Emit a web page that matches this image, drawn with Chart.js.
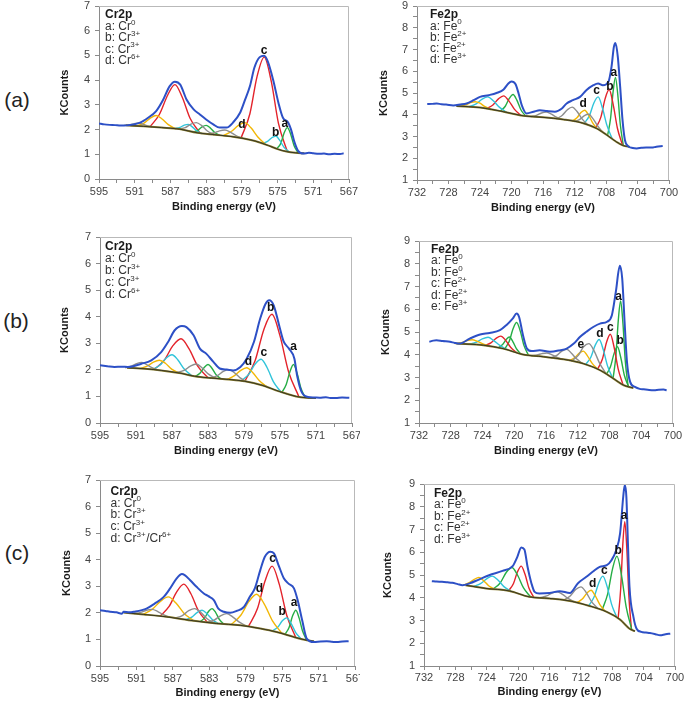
<!DOCTYPE html>
<html lang="en">
<head>
<meta charset="UTF-8">
<title>XPS Cr2p / Fe2p</title>
<script src="https://cdn.jsdelivr.net/npm/chart.js"></script>
<style>
    body { margin: 0; background: #fff; }
    #page { position: relative; width: 685px; height: 705px; overflow: hidden; }
    canvas { position: absolute; }
    .tag {
        position: absolute; width: 40px; margin-left: -20px; text-align: center;
        font: 21px "Liberation Sans", Arial, sans-serif; color: #222; line-height: 24px; margin-top: -12px;
    }
</style>
</head>
<body>
<div id="page">
    <div class="tag" style="left:17px; top:100px">(a)</div>
    <div class="tag" style="left:16px; top:321px">(b)</div>
    <div class="tag" style="left:17px; top:553px">(c)</div>
    <canvas id="crA"></canvas>
    <canvas id="feA"></canvas>
    <canvas id="crB"></canvas>
    <canvas id="feB"></canvas>
    <canvas id="crC"></canvas>
    <canvas id="feC"></canvas>
</div>

<script>
// ---------- tick labels ----------
const crTicks = [595, 591, 587, 583, 579, 575, 571, 567];
const feTicks = [732, 728, 724, 720, 716, 712, 708, 704, 700];

// ---------- (a) Cr2p ----------
const crA_env = [[595,2.25],[594.4,2.21],[593.8,2.19],[593.2,2.18],[592.6,2.16],[591.9,2.17],[590.4,2.28],[589.5,2.48],[588.6,2.75],[587.8,3.22],[587.1,3.75],[586.5,3.94],[585.9,3.82],[585.2,3.22],[584.4,2.82],[583.7,2.61],[583.0,2.41],[582.2,2.21],[581.5,2.08],[580.7,2.08],[580.0,2.28],[579.2,2.68],[578.7,3.15],[578.1,3.75],[577.6,4.50],[577.0,4.93],[576.5,4.99],[576.1,4.76],[575.5,4.02],[574.9,3.08],[574.4,2.48],[573.8,2.28],[573.5,2.01],[573.1,1.48],[572.7,1.14],[572.1,1.03],[571.5,1.06],[571.0,1.04],[570.4,1.02],[569.8,1.03],[569.2,1.00],[568.6,1.02],[568.0,1.01],[567.6,1.04]];
const crA_bg = [[592.0,2.17],[590.0,2.13],[588.0,2.08],[586.0,2.02],[584.0,1.87],[582.0,1.79],[580.0,1.71],[578.0,1.58],[577.0,1.48],[576.0,1.35],[575.0,1.21],[574.0,1.11],[573.0,1.06],[572.0,1.04]];
const crA_red = [
    [[579.1,1.65],[578.1,2.64],[577.3,4.14],[576.5,4.93],[575.7,3.94],[574.9,2.25],[573.9,1.10]],
    [[589.3,2.11],[588.24,2.61],[587.3,3.40],[586.5,3.82],[585.7,3.33],[584.8,2.46],[583.7,1.86]]];
const crA_green = [
    [[575.1,1.22],[574.64,1.44],[574.26,1.87],[573.9,2.08],[573.54,1.82],[573.16,1.36],[572.7,1.05]],
    [[584.5,1.90],[583.93,1.97],[583.45,2.11],[583.0,2.17],[582.55,2.07],[582.07,1.89],[581.5,1.77]]];
const crA_cyan = [
    [[576.7,1.44],[576.13,1.52],[575.65,1.67],[575.2,1.74],[574.75,1.56],[574.27,1.28],[573.7,1.09]],
    [[586.5,2.04],[585.93,2.09],[585.45,2.18],[585.0,2.21],[584.55,2.11],[584.07,1.95],[583.5,1.84]]];
const crA_yellow = [
    [[581.1,1.75],[580.19,1.92],[579.42,2.16],[578.7,2.28],[577.98,2.07],[577.21,1.70],[576.3,1.39]],
    [[590.8,2.15],[589.96,2.26],[589.26,2.46],[588.6,2.57],[587.94,2.43],[587.24,2.20],[586.4,2.03]]];
const crA_gray = [
    [[586.1,2.02],[585.34,2.08],[584.7,2.22],[584.1,2.28],[583.5,2.16],[582.86,1.94],[582.1,1.79]],
    [[582.9,1.82],[582.14,1.86],[581.5,1.95],[580.9,1.98],[580.3,1.90],[579.66,1.76],[578.9,1.64]],
    [[592.2,2.17],[591.6,2.19],[591.1,2.23],[590.6,2.27],[590.1,2.22],[589.6,2.15],[589.0,2.11]]];
const crA_marks = [['c',576.5,5.2],['d',579.0,2.2],['b',575.2,1.88],['a',574.2,2.24]];
const crA_legend = [['a: Cr','0'],['b: Cr','3+'],['c: Cr','3+'],['d: Cr','6+']];

// ---------- (a) Fe2p ----------
const feA_env = [[730.7,4.49],[730.1,4.50],[729.5,4.52],[728.9,4.48],[728.3,4.47],[727.4,4.43],[726.5,4.47],[725.7,4.52],[724.8,4.67],[724.0,4.82],[722.9,4.90],[721.9,5.00],[721.0,5.16],[720.4,5.44],[720.0,5.53],[719.5,5.41],[719.1,4.98],[718.7,4.44],[718.1,4.06],[717.2,4.14],[716.4,4.21],[715.5,4.17],[714.5,4.14],[713.6,4.29],[713.0,4.52],[712.2,4.67],[711.3,4.82],[710.5,5.13],[709.6,5.36],[709.0,5.44],[708.4,5.36],[707.7,5.51],[707.3,6.20],[707.0,7.12],[706.8,7.30],[706.5,6.66],[706.2,5.28],[705.9,3.75],[705.6,2.84],[705.2,2.56],[704.6,2.47],[704.1,2.45],[703.5,2.48],[702.9,2.50],[702.2,2.49],[701.6,2.53],[700.8,2.56]];
const feA_bg = [[727.0,4.40],[724.0,4.33],[721.0,4.14],[718.5,3.95],[716.0,3.88],[713.4,3.78],[711.0,3.62],[709.2,3.37],[707.9,3.07],[706.7,2.76],[705.8,2.58],[705.0,2.53]];
const feA_green = [
    [[707.8,3.05],[707.42,3.83],[707.1,5.05],[706.8,5.71],[706.5,4.91],[706.18,3.54],[705.8,2.58]],
    [[721.4,4.17],[720.79,4.39],[720.28,4.75],[719.8,4.93],[719.32,4.67],[718.81,4.23],[718.2,3.94]]];
const feA_red = [
    [[709.3,3.38],[708.65,3.89],[708.11,4.74],[707.6,5.16],[707.09,4.48],[706.55,3.38],[705.9,2.60]],
    [[723.2,4.28],[722.36,4.45],[721.66,4.73],[721.0,4.87],[720.34,4.64],[719.64,4.26],[718.8,3.97]]];
const feA_cyan = [
    [[710.8,3.59],[710.12,3.95],[709.54,4.54],[709.0,4.82],[708.46,4.32],[707.88,3.51],[707.2,2.89]],
    [[725.4,4.36],[724.49,4.50],[723.72,4.72],[723.0,4.82],[722.28,4.63],[721.51,4.34],[720.6,4.11]]];
const feA_yellow = [
    [[712.3,3.70],[711.69,3.86],[711.18,4.10],[710.7,4.21],[710.22,3.99],[709.71,3.64],[709.1,3.35]],
    [[726.6,4.39],[725.84,4.45],[725.2,4.56],[724.6,4.60],[724.0,4.53],[723.36,4.37],[722.6,4.24]]];
const feA_gray = [
    [[714.3,3.81],[713.54,3.98],[712.9,4.23],[712.3,4.35],[711.7,4.16],[711.06,3.82],[710.3,3.53]],
    [[712.0,3.69],[711.32,3.79],[710.74,3.96],[710.2,4.02],[709.66,3.82],[709.08,3.50],[708.4,3.19]],
    [[717.6,3.92],[716.84,3.97],[716.2,4.08],[715.6,4.12],[715.0,4.04],[714.36,3.90],[713.6,3.79]]];
const feA_marks = [['a',707.0,5.95],['b',707.5,5.31],['c',709.2,5.1],['d',710.9,4.52]];
const feA_legend = [['a: Fe','0'],['b: Fe','2+'],['c: Fe','2+'],['d: Fe','3+']];

// ---------- (b) Cr2p ----------
const crB_env = [[595,2.17],[594.2,2.14],[593.4,2.11],[592.6,2.12],[591.9,2.11],[590.4,2.23],[589.3,2.36],[588.2,2.67],[587.4,3.07],[586.7,3.49],[585.9,3.65],[585.4,3.61],[584.6,3.30],[583.9,2.80],[583.2,2.61],[582.4,2.30],[581.7,2.05],[580.9,2.01],[580.2,1.98],[579.4,2.11],[578.7,2.42],[577.9,3.05],[577.2,3.93],[576.6,4.49],[576.2,4.62],[575.7,4.43],[575.1,3.68],[574.6,3.07],[574.0,2.80],[573.4,2.42],[573.1,1.79],[572.6,1.17],[571.9,0.98],[571.2,0.96],[570.6,0.95],[569.9,0.97],[569.4,0.94],[568.8,0.94],[568.1,0.96],[567.3,0.95]];
const crB_bg = [[592.0,2.08],[590.0,2.04],[588.2,1.98],[586.0,1.87],[584.5,1.76],[582.6,1.69],[580.7,1.64],[578.9,1.57],[577.0,1.42],[575.1,1.19],[573.2,1.00],[572.1,0.95],[571.0,0.94]];
const crB_red = [
    [[578.9,1.57],[577.76,2.35],[576.8,3.51],[575.9,4.09],[575.0,3.28],[574.04,1.92],[572.9,0.99]],
    [[589.0,2.01],[587.86,2.36],[586.9,2.91],[586.0,3.17],[585.1,2.79],[584.14,2.14],[583.0,1.70]]];
const crB_cyan = [
    [[579.3,1.59],[578.46,1.84],[577.76,2.22],[577.1,2.40],[576.44,2.09],[575.74,1.56],[574.9,1.17]],
    [[589.2,2.01],[588.36,2.17],[587.66,2.44],[587.0,2.57],[586.34,2.37],[585.64,2.03],[584.8,1.78]]];
const crB_green = [
    [[574.8,1.15],[574.31,1.45],[573.89,1.94],[573.5,2.20],[573.11,1.88],[572.69,1.33],[572.2,0.95]],
    [[584.4,1.75],[583.87,1.88],[583.42,2.09],[583.0,2.20],[582.58,2.07],[582.13,1.83],[581.6,1.67]]];
const crB_yellow = [
    [[580.9,1.64],[580.06,1.78],[579.36,1.98],[578.7,2.08],[578.04,1.90],[577.34,1.61],[576.5,1.37]],
    [[590.6,2.05],[589.76,2.14],[589.06,2.29],[588.4,2.36],[587.74,2.25],[587.04,2.03],[586.2,1.88]]];
const crB_gray = [
    [[586.5,1.90],[585.66,1.98],[584.96,2.14],[584.3,2.22],[583.64,2.07],[582.94,1.84],[582.1,1.68]],
    [[582.7,1.69],[581.94,1.78],[581.3,1.94],[580.7,2.01],[580.1,1.90],[579.46,1.71],[578.7,1.56]],
    [[592.2,2.08],[591.52,2.14],[590.94,2.23],[590.4,2.28],[589.86,2.21],[589.28,2.09],[588.6,2.00]]];
const crB_marks = [['b',576.05,4.33],['a',573.5,2.86],['c',576.8,2.65],['d',578.5,2.32]];
const crB_legend = [['a: Cr','0'],['b: Cr','3+'],['c: Cr','3+'],['d: Cr','6+']];

// ---------- (b) Fe2p ----------
const feB_env = [[730.7,4.57],[730.2,4.62],[729.8,4.64],[729.0,4.60],[728.1,4.57],[727.5,4.52],[726.9,4.49],[725.6,4.71],[724.3,4.89],[723.1,4.96],[721.8,5.08],[721.0,5.30],[720.2,5.59],[719.7,5.81],[719.4,5.67],[718.9,4.86],[718.4,4.27],[717.8,4.16],[716.8,4.20],[715.5,4.13],[714.2,4.20],[713.4,4.27],[712.5,4.49],[711.7,4.79],[710.9,5.01],[710.0,5.23],[709.2,5.37],[708.3,5.45],[707.7,5.74],[707.2,6.77],[706.7,7.91],[706.4,7.36],[706.1,5.45],[705.8,3.69],[705.4,2.81],[704.8,2.59],[704.2,2.50],[703.7,2.48],[703.0,2.45],[702.4,2.44],[701.8,2.46],[701.2,2.47],[700.8,2.44]];
const feB_bg = [[727.3,4.49],[723.9,4.42],[721.4,4.27],[718.9,4.01],[716.3,3.91],[713.8,3.80],[711.3,3.61],[709.2,3.32],[707.5,2.95],[706.2,2.66],[705.0,2.54]];
const feB_green = [
    [[707.55,2.96],[707.19,3.96],[706.89,5.52],[706.6,6.36],[706.31,5.39],[706.01,3.72],[705.65,2.60]],
    [[708.4,3.14],[707.87,3.48],[707.42,4.06],[707.0,4.35],[706.58,3.88],[706.13,3.10],[705.6,2.60]],
    [[721.2,4.26],[720.63,4.59],[720.15,5.14],[719.7,5.42],[719.25,5.05],[718.77,4.40],[718.2,3.98]],
    [[722.0,4.31],[721.47,4.45],[721.02,4.67],[720.6,4.78],[720.18,4.58],[719.73,4.27],[719.2,4.04]]];
const feB_red = [
    [[709.5,3.37],[708.89,3.81],[708.38,4.54],[707.9,4.90],[707.42,4.33],[706.91,3.38],[706.3,2.68]],
    [[723.7,4.41],[722.94,4.52],[722.3,4.72],[721.7,4.82],[721.1,4.64],[720.46,4.33],[719.7,4.09]]];
const feB_cyan = [
    [[711.0,3.58],[710.35,3.89],[709.81,4.41],[709.3,4.67],[708.79,4.23],[708.25,3.51],[707.6,2.97]],
    [[725.7,4.46],[724.79,4.55],[724.02,4.70],[723.3,4.77],[722.58,4.62],[721.81,4.41],[720.9,4.22]]];
const feB_yellow = [
    [[713.1,3.74],[712.42,3.86],[711.84,4.06],[711.3,4.16],[710.76,3.94],[710.18,3.62],[709.5,3.37]],
    [[727.5,4.49],[726.66,4.53],[725.96,4.62],[725.3,4.66],[724.64,4.59],[723.94,4.48],[723.1,4.38]]];
const feB_gray = [
    [[712.8,3.72],[711.96,3.96],[711.26,4.35],[710.6,4.49],[709.94,4.17],[709.24,3.62],[708.4,3.15]],
    [[715.4,3.86],[714.64,3.97],[714.0,4.16],[713.4,4.24],[712.8,4.07],[712.16,3.82],[711.4,3.62]],
    [[717.9,3.96],[717.14,3.99],[716.5,4.05],[715.9,4.08],[715.3,4.01],[714.66,3.90],[713.9,3.80]]];
const feB_marks = [['a',706.86,6.55],['b',706.65,4.6],['c',707.9,5.18],['d',709.2,4.93],['e',711.6,4.45]];
const feB_legend = [['a: Fe','0'],['b: Fe','0'],['c: Fe','2+'],['d: Fe','2+'],['e: Fe','3+']];

// ---------- (c) Cr2p ----------
const crC_env = [[595,2.10],[594.4,2.07],[593.9,2.04],[593.2,2.02],[592.6,1.97],[592.4,2.04],[591.8,2.02],[591.3,2.04],[589.9,2.16],[589.0,2.35],[588.0,2.60],[587.3,2.92],[586.6,3.29],[586.0,3.46],[585.7,3.42],[585.1,3.23],[584.4,2.98],[583.6,2.73],[583.1,2.63],[582.5,2.48],[582.0,2.16],[581.4,2.04],[580.7,2.00],[580.0,2.07],[579.2,2.22],[578.5,2.63],[578.0,2.92],[577.4,3.61],[576.9,4.11],[576.3,4.30],[575.9,4.24],[575.4,3.80],[574.8,3.29],[574.3,3.10],[573.7,2.92],[573.3,2.48],[572.8,1.72],[572.3,1.03],[571.5,0.90],[570.8,0.92],[570.1,0.93],[569.5,0.91],[569.0,0.90],[568.4,0.92],[567.7,0.93]];
const crC_bg = [[592.4,2.01],[590.2,1.94],[587.7,1.85],[584.7,1.70],[582.2,1.60],[579.6,1.53],[577.4,1.41],[575.6,1.28],[573.7,1.09],[572.3,0.97],[571.5,0.93]];
const crC_red = [
    [[578.7,1.49],[577.71,2.16],[576.88,3.20],[576.1,3.76],[575.32,3.08],[574.49,1.90],[573.5,1.07]],
    [[588.4,1.88],[587.41,2.24],[586.58,2.79],[585.8,3.08],[585.02,2.72],[584.19,2.08],[583.2,1.64]]];
const crC_yellow = [
    [[580.6,1.56],[579.54,1.91],[578.64,2.43],[577.8,2.70],[576.96,2.33],[576.06,1.70],[575.0,1.22]],
    [[590.3,1.94],[589.24,2.14],[588.34,2.44],[587.5,2.60],[586.66,2.37],[585.76,1.98],[584.7,1.70]]];
const crC_cyan = [
    [[576.1,1.32],[575.49,1.46],[574.98,1.70],[574.5,1.81],[574.02,1.60],[573.51,1.26],[572.9,1.02]],
    [[585.6,1.75],[584.92,1.84],[584.34,2.01],[583.8,2.10],[583.26,1.97],[582.68,1.75],[582.0,1.59]]];
const crC_green = [
    [[574.7,1.19],[574.24,1.45],[573.86,1.88],[573.5,2.10],[573.14,1.81],[572.76,1.32],[572.3,0.97]],
    [[584.0,1.67],[583.51,1.81],[583.09,2.05],[582.7,2.16],[582.31,2.02],[581.89,1.75],[581.4,1.58]]];
const crC_gray = [
    [[586.8,1.80],[585.96,1.90],[585.26,2.08],[584.6,2.16],[583.94,2.02],[583.24,1.78],[582.4,1.61]],
    [[583.3,1.64],[582.46,1.73],[581.76,1.89],[581.1,1.97],[580.44,1.85],[579.74,1.66],[578.9,1.50]],
    [[591.3,1.97],[590.54,2.02],[589.9,2.10],[589.3,2.13],[588.7,2.06],[588.06,1.93],[587.3,1.83]]];
const crC_marks = [['c',576.05,4.02],['d',577.5,2.92],['b',575.0,2.06],['a',573.7,2.39]];
const crC_legend = [['a: Cr','0'],['b: Cr','3+'],['c: Cr','3+'],['d: Cr','3+','/Cr','6+']];

// ---------- (c) Fe2p ----------
const feC_env = [[731.0,4.73],[730.4,4.71],[729.7,4.70],[729.0,4.68],[728.4,4.66],[727.7,4.60],[727.1,4.55],[726.2,4.63],[725.0,4.80],[723.7,4.99],[722.0,5.18],[720.7,5.39],[720.1,5.80],[719.6,6.21],[719.2,6.12],[718.8,5.36],[718.3,4.63],[717.9,4.26],[717.3,4.19],[716.0,4.21],[714.7,4.29],[713.4,4.21],[712.4,4.63],[711.3,4.92],[710.5,5.14],[709.6,5.36],[708.7,5.43],[708.1,5.65],[707.5,6.09],[707.0,6.83],[706.6,8.44],[706.4,8.96],[706.2,8.44],[706.0,6.39],[705.8,4.48],[705.3,3.16],[704.9,2.64],[704.3,2.50],[703.7,2.47],[703.2,2.45],[702.5,2.40],[701.9,2.35],[701.2,2.40],[700.6,2.42]];
const feC_bg = [[726.7,4.55],[724.1,4.41],[721.1,4.30],[718.6,4.04],[716.0,3.97],[713.4,3.86],[710.9,3.64],[708.7,3.38],[707.0,3.04],[705.8,2.64],[705.1,2.53]];
const feC_red = [
    [[707.25,3.09],[706.93,4.36],[706.66,6.31],[706.4,7.34],[706.14,6.13],[705.87,4.01],[705.55,2.60]],
    [[721.2,4.31],[720.59,4.63],[720.08,5.14],[719.6,5.39],[719.12,5.03],[718.61,4.42],[718.0,4.02]]];
const feC_green = [
    [[709.3,3.46],[708.58,4.17],[707.97,5.26],[707.4,5.83],[706.83,5.01],[706.22,3.59],[705.5,2.59]],
    [[723.2,4.38],[722.29,4.65],[721.52,5.11],[720.8,5.33],[720.08,5.00],[719.31,4.43],[718.4,4.03]]];
const feC_cyan = [
    [[711.0,3.65],[710.32,4.03],[709.74,4.63],[709.2,4.95],[708.66,4.50],[708.08,3.71],[707.4,3.12]],
    [[725.7,4.50],[724.79,4.62],[724.02,4.83],[723.3,4.95],[722.58,4.78],[721.81,4.49],[720.9,4.28]]];
const feC_yellow = [
    [[712.5,3.79],[711.82,3.94],[711.24,4.20],[710.7,4.33],[710.16,4.08],[709.58,3.70],[708.9,3.41]],
    [[727.0,4.56],[726.24,4.66],[725.6,4.81],[725.0,4.89],[724.4,4.75],[723.76,4.53],[723.0,4.38]]];
const feC_gray = [
    [[714.2,3.89],[713.36,4.08],[712.66,4.36],[712.0,4.48],[711.34,4.24],[710.64,3.83],[709.8,3.51]],
    [[717.2,4.00],[716.36,4.08],[715.66,4.21],[715.0,4.26],[714.34,4.15],[713.64,3.97],[712.8,3.81]]];
const feC_marks = [['a',706.5,7.59],['b',707.25,6.09],['c',709.0,5.21],['d',710.5,4.6]];
const feC_legend = [['a: Fe','0'],['b: Fe','2+'],['c: Fe','2+'],['d: Fe','3+']];

// ---------------------------------------------------------------
const FONT = '"Liberation Sans", Arial, sans-serif';
const COLORS = { red: '#e3232b', green: '#25ad45', cyan: '#30c4da', yellow: '#f2b705', gray: '#8e8e8e' };

// page geometry of each panel: canvas box and plot box [l, t, r, b]
const panels = [
    { id: 'crA', cv: [40, 0, 320, 216],   plot: [99, 6, 349, 179],   yT: 65,  xL: 192, xT: 207, leg: [6, 9, 11.4],
      title: 'Cr2p', legend: crA_legend, marks: crA_marks, env: crA_env, bg: crA_bg,
      comps: { gray: crA_gray, yellow: crA_yellow, cyan: crA_cyan, green: crA_green, red: crA_red } },
    { id: 'feA', cv: [365, 0, 320, 216],  plot: [417, 6, 669, 180],  yT: 384, xL: 193, xT: 208, leg: [13, 9, 11.25],
      title: 'Fe2p', legend: feA_legend, marks: feA_marks, env: feA_env, bg: feA_bg,
      comps: { gray: feA_gray, yellow: feA_yellow, cyan: feA_cyan, red: feA_red, green: feA_green } },
    { id: 'crB', cv: [40, 228, 320, 232], plot: [100, 237, 352, 423], yT: 65,  xL: 436, xT: 451, leg: [5, 10, 11.9],
      title: 'Cr2p', legend: crB_legend, marks: crB_marks, env: crB_env, bg: crB_bg,
      comps: { gray: crB_gray, yellow: crB_yellow, cyan: crB_cyan, green: crB_green, red: crB_red } },
    { id: 'feB', cv: [365, 228, 320, 232], plot: [419, 241, 673, 423], yT: 386, xL: 436, xT: 451, leg: [12, 8.5, 11.5],
      title: 'Fe2p', legend: feB_legend, marks: feB_marks, env: feB_env, bg: feB_bg,
      comps: { gray: feB_gray, yellow: feB_yellow, cyan: feB_cyan, red: feB_red, green: feB_green } },
    { id: 'crC', cv: [40, 470, 320, 235], plot: [100, 480, 355, 666], yT: 67,  xL: 679, xT: 693, leg: [10.5, 11.5, 11.7],
      title: 'Cr2p', legend: crC_legend, marks: crC_marks, env: crC_env, bg: crC_bg,
      comps: { gray: crC_gray, yellow: crC_yellow, cyan: crC_cyan, green: crC_green, red: crC_red } },
    { id: 'feC', cv: [365, 470, 320, 235], plot: [424, 484, 675, 666], yT: 388, xL: 678, xT: 692, leg: [10, 9.5, 11.5],
      title: 'Fe2p', legend: feC_legend, marks: feC_marks, env: feC_env, bg: feC_bg,
      comps: { gray: feC_gray, yellow: feC_yellow, cyan: feC_cyan, green: feC_green, red: feC_red } }
];

// frame, legend block with superscripts, peak letters
const panelText = {
    id: 'panelText',
    afterDatasetsDraw(chart, args, o) {
        const { ctx, chartArea: a, scales } = chart;
        ctx.save();
        ctx.strokeStyle = '#b9b9b9';
        ctx.lineWidth = 1;
        ctx.beginPath();
        ctx.moveTo(a.left, a.top + 0.5);
        ctx.lineTo(a.right - 0.5, a.top + 0.5);
        ctx.lineTo(a.right - 0.5, a.bottom);
        ctx.stroke();

        const x0 = a.left + o.leg[0];
        const y0 = a.top + o.leg[1];
        ctx.textAlign = 'left';
        ctx.textBaseline = 'middle';
        ctx.fillStyle = '#1a1a1a';
        ctx.font = 'bold 12px ' + FONT;
        ctx.fillText(o.title, x0, y0);
        ctx.fillStyle = '#333';
        o.legend.forEach((parts, i) => {
            let x = x0;
            const ly = y0 + (i + 1) * o.leg[2];
            parts.forEach((s, k) => {
                const sup = k % 2 === 1;
                ctx.font = (sup ? '8px ' : '12px ') + FONT;
                ctx.fillText(s, x, sup ? ly - 4 : ly);
                x += ctx.measureText(s).width + (sup ? 0.5 : 0);
            });
        });

        ctx.textAlign = 'center';
        ctx.fillStyle = '#111';
        ctx.font = 'bold 12px ' + FONT;
        o.marks.forEach(([t, xv, yv]) => {
            ctx.fillText(t, scales.x.getPixelForValue(xv), scales.y.getPixelForValue(yv));
        });
        ctx.restore();
    }
};

function line(pts, color, width) {
    return {
        data: pts.map(([x, y]) => ({ x, y })),
        borderColor: color,
        borderWidth: width,
        pointRadius: 0,
        fill: false,
        cubicInterpolationMode: 'monotone'
    };
}

panels.forEach(p => {
    const [cx, cy, cw, ch] = p.cv;
    const [l, t, r, b] = p.plot;
    const isCr = p.id.startsWith('cr');
    const ticks = isCr ? crTicks : feTicks;

    const canvas = document.getElementById(p.id);
    canvas.width = cw;
    canvas.height = ch;
    canvas.style.left = cx + 'px';
    canvas.style.top = cy + 'px';

    // first dataset is drawn on top
    const datasets = [line(p.env, '#2d50c6', 2), line(p.bg, '#2e2e22', 0.9), line(p.bg, '#8a7d2c', 2)];
    Object.keys(p.comps).forEach(k => p.comps[k].forEach(pts => datasets.push(line(pts, COLORS[k], 1.4))));

    new Chart(canvas, {
        type: 'line',
        data: { datasets },
        plugins: [panelText],
        options: {
            responsive: false,
            animation: false,
            devicePixelRatio: 1,
            layout: { padding: { left: 0, top: t - cy, right: cx + cw - r, bottom: 0 } },
            plugins: {
                legend: { display: false },
                tooltip: { enabled: false },
                panelText: { title: p.title, legend: p.legend, marks: p.marks, leg: p.leg }
            },
            scales: {
                x: {
                    type: 'linear',
                    reverse: true,
                    min: Math.min(...ticks),
                    max: Math.max(...ticks),
                    afterFit(s) { s.height = cy + ch - b; s.paddingLeft = 0; s.paddingRight = 0; },
                    grid: { drawOnChartArea: false, tickLength: 4, color: '#8a8a8a' },
                    border: { color: '#8a8a8a' },
                    ticks: {
                        stepSize: 2, autoSkip: false, maxRotation: 0, minRotation: 0,
                        padding: p.xL - b - 6.6 - 4,
                        color: '#444', font: { size: 11, family: FONT },
                        callback: v => ticks.includes(v) ? String(v) : ''
                    },
                    title: {
                        display: true, text: 'Binding energy (eV)', color: '#1a1a1a',
                        font: { size: 11, weight: 'bold', family: FONT },
                        padding: { top: 0, bottom: cy + ch - p.xT - 6.6 }
                    }
                },
                y: {
                    min: isCr ? 0 : 1,
                    max: isCr ? 7 : 9,
                    afterFit(s) { s.width = l - cx; s.paddingTop = 0; s.paddingBottom = 0; },
                    grid: { drawOnChartArea: false, tickLength: 4, color: '#8a8a8a' },
                    border: { color: '#8a8a8a' },
                    ticks: {
                        stepSize: isCr ? 1 : 0.5, autoSkip: false, padding: 5,
                        color: '#444', font: { size: 11, family: FONT },
                        callback: v => Number.isInteger(v) ? String(v) : ''
                    },
                    title: {
                        display: true, text: 'KCounts', color: '#1a1a1a',
                        font: { size: 11, weight: 'bold', family: FONT },
                        padding: { top: p.yT - cx - 6.6, bottom: 0 }
                    }
                }
            }
        }
    });
});
</script>
</body>
</html>
